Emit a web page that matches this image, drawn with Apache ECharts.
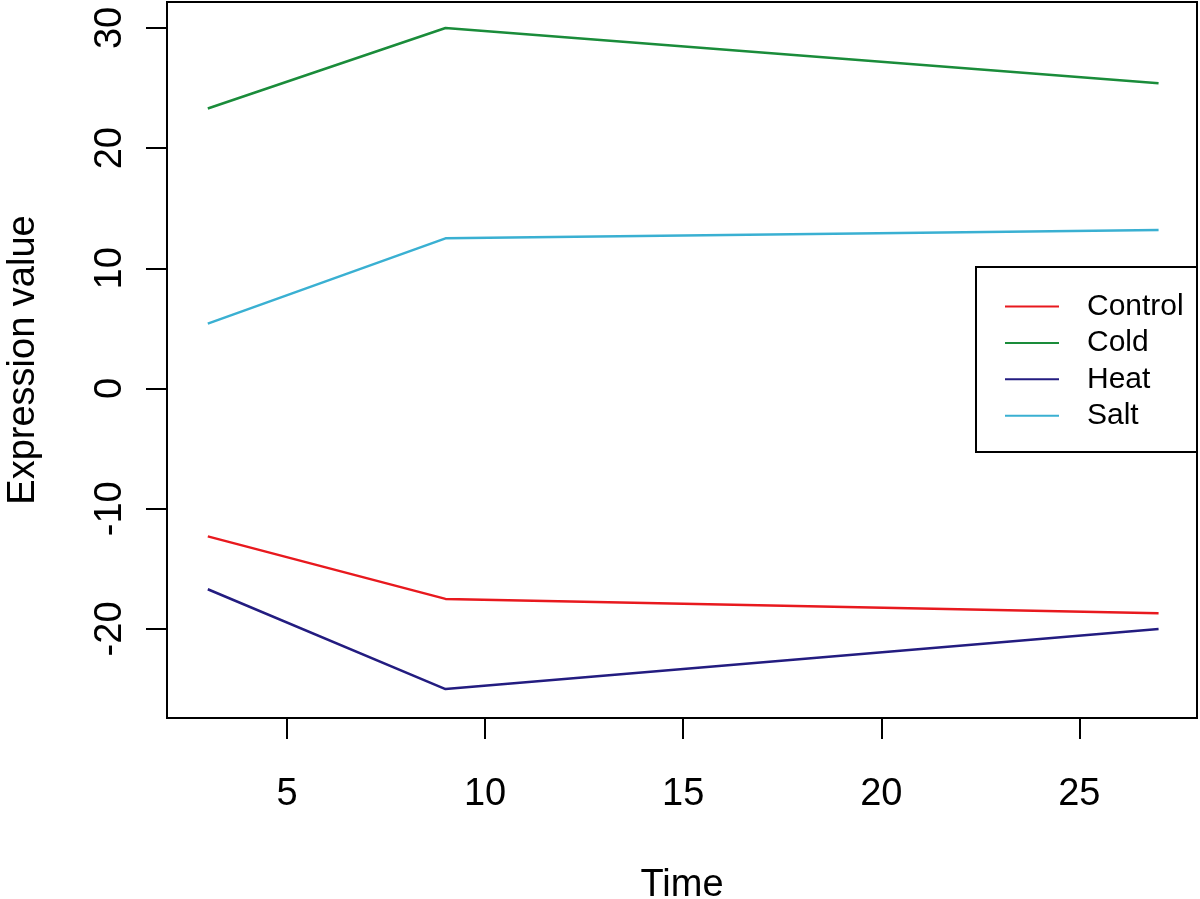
<!DOCTYPE html>
<html>
<head>
<meta charset="utf-8">
<script src="https://cdn.jsdelivr.net/npm/echarts@6/dist/echarts.min.js"></script>
<style>
html,body{margin:0;padding:0;background:#fff;}
#main{width:1200px;height:899px;}
</style>
</head>
<body>
<div id="main"></div>
<script>
const seriesNames = ['Control', 'Cold', 'Heat', 'Salt'];
const times = [3, 9, 27];
const control = [-12.3, -17.5, -18.7];
const cold = [23.3, 30.0, 25.4];
const heat = [-16.7, -25.0, -20.0];
const salt = [5.4, 12.5, 13.2];
const xTicks = [5, 10, 15, 20, 25];
const yTicks = [-20, -10, 0, 10, 20, 30];
const colors = ['#E8191E', '#1A8C3A', '#231C80', '#3AB0D2'];

const valuesByName = [control, cold, heat, salt];
const FONT = 'Liberation Sans, Arial, Helvetica, sans-serif';

const chart = echarts.init(document.getElementById('main'), null, {renderer: 'canvas'});
chart.setOption({
  backgroundColor: '#ffffff',
  animation: false,
  grid: {
    left: 167, right: 3, top: 2, bottom: 181,
    outerBoundsMode: 'none', containLabel: false,
    show: true, borderColor: '#000', borderWidth: 2, backgroundColor: 'transparent'
  },
  xAxis: {
    type: 'value', min: 1.97, max: 27.97,
    name: 'Time', nameLocation: 'middle', nameGap: 149,
    nameTextStyle: {fontFamily: FONT, fontSize: 38, color: '#000'},
    axisLine: {show: false, onZero: false},
    splitLine: {show: false},
    axisTick: {show: true, length: 21, lineStyle: {color: '#000', width: 2}, customValues: xTicks},
    axisLabel: {customValues: xTicks, margin: 58, fontFamily: FONT, fontSize: 38, color: '#000'}
  },
  yAxis: {
    type: 'value', min: -27.41, max: 32.16,
    name: 'Expression value', nameLocation: 'middle', nameGap: 124, nameRotate: 90,
    nameTextStyle: {fontFamily: FONT, fontSize: 38, color: '#000'},
    axisLine: {show: false, onZero: false},
    splitLine: {show: false},
    axisTick: {show: true, length: 21, lineStyle: {color: '#000', width: 2}, customValues: yTicks},
    axisLabel: {customValues: yTicks, rotate: 90, margin: 37, fontFamily: FONT, fontSize: 38, color: '#000'}
  },
  legend: {
    orient: 'vertical', left: 1005, top: 288.5, padding: 0,
    itemWidth: 54, itemHeight: 2, itemGap: 0.4,
    icon: 'rect',
    textStyle: {fontFamily: FONT, fontSize: 30, color: '#000', lineHeight: 36, padding: [0, 0, 0, 23]},
    data: seriesNames
  },
  graphic: [{
    type: 'rect', shape: {x: 976, y: 267, width: 221, height: 185},
    style: {fill: 'none', stroke: '#000', lineWidth: 2}, z: 10
  }],
  series: seriesNames.map((n, i) => ({
    name: n, type: 'line',
    data: times.map((t, j) => [t, valuesByName[i][j]]),
    showSymbol: false, symbol: 'none',
    lineStyle: {color: colors[i], width: 2.5},
    itemStyle: {color: colors[i]}
  }))
});
</script>
</body>
</html>
